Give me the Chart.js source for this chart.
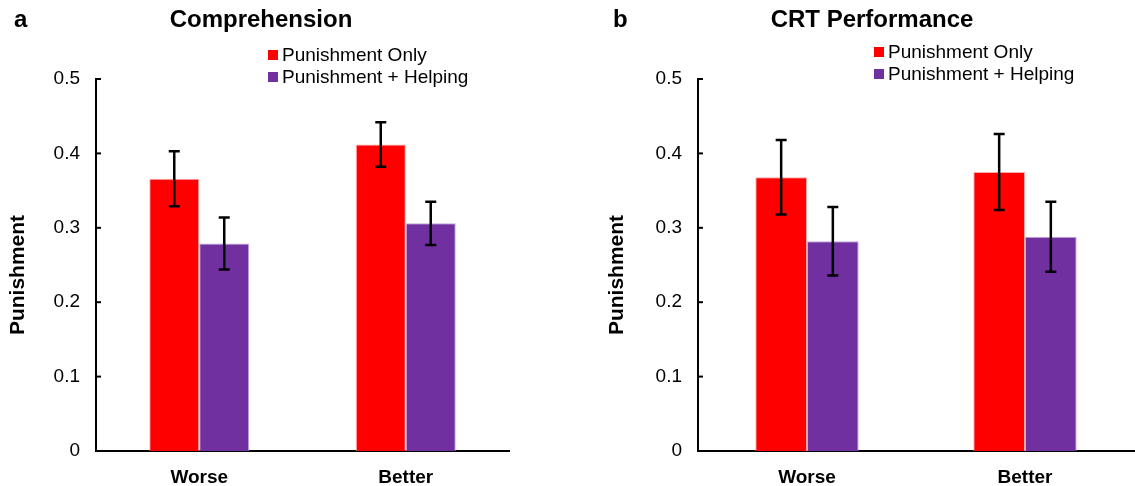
<!DOCTYPE html>
<html>
<head>
<meta charset="utf-8">
<script src="https://cdn.jsdelivr.net/npm/chart.js@4/dist/chart.umd.min.js"></script>
<style>
  html, body { margin: 0; padding: 0; background: #fff; }
  #wrap { position: relative; width: 1135px; height: 486px; }
  .panel { position: absolute; top: 0; height: 486px; }
  #panelA { left: 0; width: 567px; }
  #panelB { left: 567px; width: 568px; }
</style>
</head>
<body>
<div id="wrap">
  <div class="panel" id="panelA"><canvas id="chartA" width="567" height="486"></canvas></div>
  <div class="panel" id="panelB"><canvas id="chartB" width="568" height="486"></canvas></div>
</div>
<script>
// Groups and series
const categories = ['Worse', 'Better'];
const seriesNames = ['Punishment Only', 'Punishment + Helping'];
const yTickValues = [0, 0.1, 0.2, 0.3, 0.4, 0.5];
const yTickLabels = ['0', '0.1', '0.2', '0.3', '0.4', '0.5'];

// Panel a: Comprehension
const comprehensionOnly = [0.366, 0.412];
const comprehensionOnlyErr = [0.037, 0.030];
const comprehensionHelping = [0.279, 0.306];
const comprehensionHelpingErr = [0.035, 0.029];

// Panel b: CRT Performance
const crtOnly = [0.368, 0.375];
const crtOnlyErr = [0.050, 0.051];
const crtHelping = [0.282, 0.288];
const crtHelpingErr = [0.046, 0.047];

const RED = '#FF0000';
const PURPLE = '#7030A0';
const FONT = '"Liberation Sans", Arial, Helvetica, sans-serif';

// Error bars, legend, panel letter, title and y title
const decorPlugin = {
  id: 'decor',
  afterDatasetsDraw(chart) {
    const ctx = chart.ctx;
    const y = chart.scales.y;
    ctx.save();
    ctx.strokeStyle = '#000';
    ctx.lineWidth = 2.5;
    chart.data.datasets.forEach((ds, di) => {
      const meta = chart.getDatasetMeta(di);
      meta.data.forEach((bar, i) => {
        const v = ds.data[i], e = ds.errors[i];
        const yt = y.getPixelForValue(v + e);
        const yb = y.getPixelForValue(v - e);
        const x = bar.x, cap = 5.5;
        ctx.beginPath();
        ctx.moveTo(x, yt); ctx.lineTo(x, yb);
        ctx.moveTo(x - cap, yt); ctx.lineTo(x + cap, yt);
        ctx.moveTo(x - cap, yb); ctx.lineTo(x + cap, yb);
        ctx.stroke();
      });
    });
    // inward tick marks on the value axis
    ctx.lineWidth = 2;
    const left = chart.chartArea.left;
    yTickValues.forEach(v => {
      const py = y.getPixelForValue(v);
      ctx.beginPath();
      ctx.moveTo(left, py); ctx.lineTo(left + 5, py);
      ctx.stroke();
    });
    ctx.restore();
  },
  afterDraw(chart, args, opts) {
    const ctx = chart.ctx;
    ctx.save();
    ctx.fillStyle = '#000';
    ctx.textBaseline = 'alphabetic';
    // panel letter
    ctx.font = 'bold 24px ' + FONT;
    ctx.textAlign = 'left';
    ctx.fillText(opts.letter, opts.letterX, 27);
    // panel title
    ctx.font = 'bold 24px ' + FONT;
    ctx.textAlign = 'center';
    ctx.fillText(opts.title, opts.titleX, 27);
    // legend
    ctx.font = '19px ' + FONT;
    ctx.textAlign = 'left';
    ctx.textBaseline = 'middle';
    chart.data.datasets.forEach((ds, i) => {
      const cy = opts.legendY + i * 22;
      ctx.fillStyle = ds.backgroundColor;
      ctx.fillRect(opts.legendX, cy - 5, 10, 10);
      ctx.fillStyle = '#000';
      ctx.fillText(ds.label, opts.legendX + 14, cy + 1);
    });
    // y axis title
    ctx.font = 'bold 21px ' + FONT;
    ctx.translate(opts.yTitleX, 275);
    ctx.rotate(-Math.PI / 2);
    ctx.textAlign = 'center';
    ctx.textBaseline = 'middle';
    ctx.fillText('Punishment', 0, 0);
    ctx.restore();
  }
};

function makeChart(id, only, onlyErr, helping, helpingErr, cfg) {
  return new Chart(document.getElementById(id), {
    type: 'bar',
    data: {
      labels: categories,
      datasets: [
        { label: seriesNames[0], data: only, errors: onlyErr,
          backgroundColor: RED, borderColor: 'rgba(255,160,160,0.9)', borderWidth: 1, borderSkipped: 'bottom' },
        { label: seriesNames[1], data: helping, errors: helpingErr,
          backgroundColor: PURPLE, borderColor: 'rgba(190,160,215,0.9)', borderWidth: 1, borderSkipped: 'bottom' }
      ]
    },
    options: {
      responsive: false,
      animation: false,
      devicePixelRatio: 1,
      layout: { padding: { left: cfg.padLeft, right: cfg.padRight, top: 79, bottom: 0 } },
      datasets: { bar: { categoryPercentage: cfg.groupFrac, barPercentage: 1 } },
      plugins: {
        legend: { display: false },
        title: { display: false },
        tooltip: { enabled: false },
        decor: cfg.decor
      },
      scales: {
        x: {
          grid: { display: false, drawTicks: false },
          border: { display: true, color: '#000', width: 2 },
          ticks: { color: '#000', font: { family: FONT, size: 19, weight: 'bold' }, padding: 15 },
          afterFit(s) { s.height = 35; }
        },
        y: {
          min: 0, max: 0.5,
          grid: { display: false, drawTicks: false },
          border: { display: true, color: '#000', width: 2 },
          afterBuildTicks(s) { s.ticks = yTickValues.map(v => ({ value: v })); },
          ticks: {
            color: '#000', font: { family: FONT, size: 19 }, padding: 16,
            callback(v) { return yTickLabels[yTickValues.indexOf(+v.toFixed(1))]; }
          },
          afterFit(s) { s.width = cfg.yWidth; }
        }
      }
    },
    plugins: [decorPlugin]
  });
}

makeChart('chartA', comprehensionOnly, comprehensionOnlyErr, comprehensionHelping, comprehensionHelpingErr, {
  padLeft: 0, padRight: 58, yWidth: 96, groupFrac: 0.484,
  decor: { letter: 'a', letterX: 14, title: 'Comprehension', titleX: 261,
           legendX: 268, legendY: 55, yTitleX: 18 }
});

makeChart('chartB', crtOnly, crtOnlyErr, crtHelping, crtHelpingErr, {
  padLeft: 32, padRight: 1, yWidth: 99, groupFrac: 0.474,
  decor: { letter: 'b', letterX: 46, title: 'CRT Performance', titleX: 305,
           legendX: 307, legendY: 52, yTitleX: 50 }
});
</script>
</body>
</html>
